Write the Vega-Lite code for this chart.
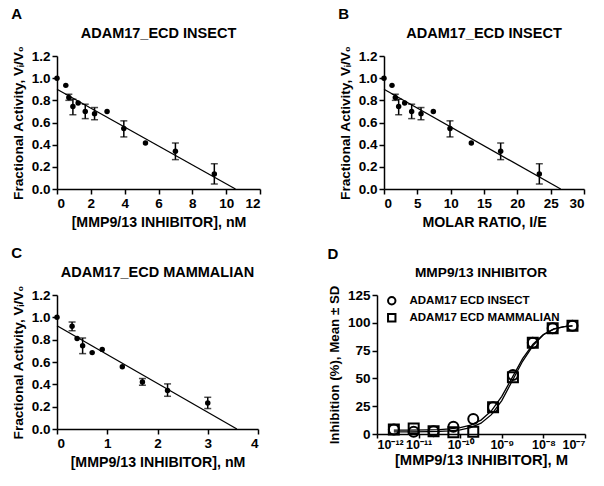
{
  "$schema": "https://vega.github.io/schema/vega-lite/v6.json",
  "background": "white",
  "padding": {"left": 11, "top": 6, "right": 5, "bottom": 5},
  "datasets": {
    "a": [
      {"x": 0, "y": 1.0},
      {"x": 0.52, "y": 0.935},
      {"x": 0.7, "y": 0.825, "lo": 0.8, "hi": 0.855},
      {"x": 0.94, "y": 0.745, "lo": 0.67, "hi": 0.81},
      {"x": 1.25, "y": 0.775},
      {"x": 1.67, "y": 0.7, "lo": 0.635, "hi": 0.765},
      {"x": 2.22, "y": 0.68, "lo": 0.625, "hi": 0.735},
      {"x": 2.96, "y": 0.7},
      {"x": 3.95, "y": 0.545, "lo": 0.47, "hi": 0.615},
      {"x": 5.23, "y": 0.415},
      {"x": 7.0, "y": 0.34, "lo": 0.265, "hi": 0.415},
      {"x": 9.3, "y": 0.135, "lo": 0.045, "hi": 0.228}
    ],
    "aline": [{"x": 0, "y": 0.9}, {"x": 10.55, "y": 0}],
    "b": [
      {"x": 0, "y": 1.0},
      {"x": 1.2, "y": 0.935},
      {"x": 1.7, "y": 0.825, "lo": 0.8, "hi": 0.855},
      {"x": 2.2, "y": 0.745, "lo": 0.67, "hi": 0.81},
      {"x": 3.1, "y": 0.775},
      {"x": 4.15, "y": 0.7, "lo": 0.635, "hi": 0.765},
      {"x": 5.55, "y": 0.68, "lo": 0.625, "hi": 0.735},
      {"x": 7.4, "y": 0.7},
      {"x": 9.9, "y": 0.545, "lo": 0.47, "hi": 0.615},
      {"x": 13.1, "y": 0.415},
      {"x": 17.5, "y": 0.34, "lo": 0.265, "hi": 0.415},
      {"x": 23.3, "y": 0.135, "lo": 0.045, "hi": 0.228}
    ],
    "bline": [{"x": 0, "y": 0.9}, {"x": 26.5, "y": 0}],
    "c": [
      {"x": 0, "y": 1.0},
      {"x": 0.3, "y": 0.92, "lo": 0.88, "hi": 0.958},
      {"x": 0.4, "y": 0.81},
      {"x": 0.51, "y": 0.746, "lo": 0.675, "hi": 0.815},
      {"x": 0.7, "y": 0.684},
      {"x": 0.9, "y": 0.713},
      {"x": 1.3, "y": 0.558},
      {"x": 1.7, "y": 0.422, "lo": 0.392, "hi": 0.452},
      {"x": 2.2, "y": 0.344, "lo": 0.293, "hi": 0.404},
      {"x": 3.0, "y": 0.233, "lo": 0.183, "hi": 0.284}
    ],
    "cline": [{"x": 0, "y": 0.925}, {"x": 3.58, "y": 0}],
    "dpts": [
      {"x": 2.54e-12, "y": 4, "s": "ADAM17 ECD INSECT"},
      {"x": 7.62e-12, "y": 2, "s": "ADAM17 ECD INSECT"},
      {"x": 2.29e-11, "y": 2.5, "s": "ADAM17 ECD INSECT"},
      {"x": 6.86e-11, "y": 6.5, "s": "ADAM17 ECD INSECT"},
      {"x": 2.06e-10, "y": 13.5, "s": "ADAM17 ECD INSECT"},
      {"x": 6.17e-10, "y": 24, "s": "ADAM17 ECD INSECT"},
      {"x": 1.85e-9, "y": 53, "s": "ADAM17 ECD INSECT"},
      {"x": 5.56e-9, "y": 82, "s": "ADAM17 ECD INSECT"},
      {"x": 1.67e-8, "y": 95, "s": "ADAM17 ECD INSECT"},
      {"x": 5e-8, "y": 97.3, "s": "ADAM17 ECD INSECT"},
      {"x": 2.54e-12, "y": 4, "s": "ADAM17 ECD MAMMALIAN"},
      {"x": 7.62e-12, "y": 5, "s": "ADAM17 ECD MAMMALIAN"},
      {"x": 2.29e-11, "y": 2.5, "s": "ADAM17 ECD MAMMALIAN"},
      {"x": 6.86e-11, "y": 1.5, "s": "ADAM17 ECD MAMMALIAN"},
      {"x": 2.06e-10, "y": 2, "s": "ADAM17 ECD MAMMALIAN"},
      {"x": 6.17e-10, "y": 24, "s": "ADAM17 ECD MAMMALIAN"},
      {"x": 1.85e-9, "y": 51, "s": "ADAM17 ECD MAMMALIAN"},
      {"x": 5.56e-9, "y": 82, "s": "ADAM17 ECD MAMMALIAN"},
      {"x": 1.67e-8, "y": 95, "s": "ADAM17 ECD MAMMALIAN"},
      {"x": 5e-8, "y": 97.3, "s": "ADAM17 ECD MAMMALIAN"}
    ],
    "dcurve": [
      {"x": 2.54e-12, "y": 3.5, "s": "insect"},
      {"x": 5.62e-12, "y": 3.55, "s": "insect"},
      {"x": 1.778e-11, "y": 3.74, "s": "insect"},
      {"x": 3.162e-11, "y": 4.0, "s": "insect"},
      {"x": 5.623e-11, "y": 4.55, "s": "insect"},
      {"x": 1e-10, "y": 5.7, "s": "insect"},
      {"x": 1.778e-10, "y": 8.0, "s": "insect"},
      {"x": 3.162e-10, "y": 12.5, "s": "insect"},
      {"x": 5.623e-10, "y": 20.8, "s": "insect"},
      {"x": 1e-9, "y": 33.9, "s": "insect"},
      {"x": 1.778e-9, "y": 50.7, "s": "insect"},
      {"x": 3.162e-9, "y": 67.7, "s": "insect"},
      {"x": 5.623e-9, "y": 80.7, "s": "insect"},
      {"x": 1e-8, "y": 89.5, "s": "insect"},
      {"x": 1.778e-8, "y": 94.5, "s": "insect"},
      {"x": 3.162e-8, "y": 96.5, "s": "insect"},
      {"x": 5e-8, "y": 97.3, "s": "insect"},
      {"x": 2.54e-12, "y": 2.0, "s": "mammalian"},
      {"x": 5.62e-12, "y": 2.0, "s": "mammalian"},
      {"x": 1.778e-11, "y": 2.17, "s": "mammalian"},
      {"x": 3.162e-11, "y": 2.38, "s": "mammalian"},
      {"x": 5.623e-11, "y": 2.8, "s": "mammalian"},
      {"x": 1e-10, "y": 3.76, "s": "mammalian"},
      {"x": 1.778e-10, "y": 5.7, "s": "mammalian"},
      {"x": 3.162e-10, "y": 9.7, "s": "mammalian"},
      {"x": 5.623e-10, "y": 17.4, "s": "mammalian"},
      {"x": 1e-9, "y": 30.0, "s": "mammalian"},
      {"x": 1.778e-9, "y": 47.6, "s": "mammalian"},
      {"x": 3.162e-9, "y": 65.4, "s": "mammalian"},
      {"x": 5.623e-9, "y": 79.5, "s": "mammalian"},
      {"x": 1e-8, "y": 89.3, "s": "mammalian"},
      {"x": 1.778e-8, "y": 94.3, "s": "mammalian"},
      {"x": 3.162e-8, "y": 96.5, "s": "mammalian"},
      {"x": 5e-8, "y": 97.3, "s": "mammalian"}
    ]
  },
  "config": {
    "font": "Liberation Sans",
    "view": {"stroke": null},
    "axis": {
      "grid": false,
      "labelOverlap": false,
      "domainColor": "black",
      "domainWidth": 1.5,
      "tickColor": "black",
      "tickWidth": 1.5,
      "tickSize": 5,
      "labelColor": "black",
      "labelFont": "Liberation Sans",
      "labelFontWeight": "bold",
      "labelFontSize": 13.5,
      "labelPadding": 2,
      "titleColor": "black",
      "titleFont": "Liberation Sans",
      "titleFontWeight": "bold",
      "titleFontSize": 14.2,
      "titlePadding": 6
    },
    "axisY": {"titleFontSize": 13.6},
    "title": {"color": "black", "font": "Liberation Sans", "fontWeight": "bold"}
  },
  "spacing": 16,
  "resolve": {"scale": {"shape": "independent"}, "legend": {"shape": "independent"}},
  "vconcat": [
    {
      "spacing": 77,
      "hconcat": [
        {
          "title": {"text": "A", "anchor": "start", "fontSize": 15, "offset": 4},
          "vconcat": [
            {
              "width": 203,
              "height": 133,
              "title": {"text": "ADAM17_ECD INSECT", "anchor": "middle", "fontSize": 14.5, "offset": 4},
              "encoding": {
                "x": {"field": "x", "type": "quantitative", "scale": {"domain": [0, 12], "nice": false}, "axis": {"values": [0, 2, 4, 6, 8, 10, 12], "format": "d", "labelOverlap": false, "title": "[MMP9/13 INHIBITOR], nM"}},
                "y": {"field": "y", "type": "quantitative", "scale": {"domain": [0, 1.2], "nice": false}, "axis": {"values": [0, 0.2, 0.4, 0.6, 0.8, 1.0, 1.2], "format": ".1f", "labelOverlap": false, "title": "Fractional Activity, Vᵢ/V₀"}}
              },
              "layer": [
                {
                  "data": {"name": "aline"},
                  "mark": {"type": "line", "color": "black", "strokeWidth": 1.3}
                },
                {
                  "data": {"name": "a"},
                  "transform": [{"filter": "isValid(datum.lo)"}],
                  "mark": {"type": "rule", "color": "black", "strokeWidth": 1.5},
                  "encoding": {"y": {"field": "lo", "type": "quantitative"}, "y2": {"field": "hi"}}
                },
                {
                  "data": {"name": "a"},
                  "transform": [{"filter": "isValid(datum.lo)"}],
                  "mark": {"type": "tick", "color": "black", "orient": "horizontal", "size": 7, "thickness": 1.5},
                  "encoding": {"y": {"field": "lo", "type": "quantitative"}}
                },
                {
                  "data": {"name": "a"},
                  "transform": [{"filter": "isValid(datum.lo)"}],
                  "mark": {"type": "tick", "color": "black", "orient": "horizontal", "size": 7, "thickness": 1.5},
                  "encoding": {"y": {"field": "hi", "type": "quantitative"}}
                },
                {
                  "data": {"name": "a"},
                  "mark": {"type": "circle", "color": "black", "opacity": 1, "size": 30}
                }
              ]
            }
          ]
        },
        {
          "title": {"text": "B", "anchor": "start", "fontSize": 15, "offset": 4},
          "vconcat": [
            {
              "width": 200,
              "height": 133,
              "title": {"text": "ADAM17_ECD INSECT", "anchor": "middle", "fontSize": 14.5, "offset": 4},
              "encoding": {
                "x": {"field": "x", "type": "quantitative", "scale": {"domain": [0, 30], "nice": false}, "axis": {"values": [0, 5, 10, 15, 20, 25, 30], "format": "d", "labelOverlap": false, "title": "MOLAR RATIO, I/E"}},
                "y": {"field": "y", "type": "quantitative", "scale": {"domain": [0, 1.2], "nice": false}, "axis": {"values": [0, 0.2, 0.4, 0.6, 0.8, 1.0, 1.2], "format": ".1f", "labelOverlap": false, "title": "Fractional Activity, Vᵢ/V₀"}}
              },
              "layer": [
                {
                  "data": {"name": "bline"},
                  "mark": {"type": "line", "color": "black", "strokeWidth": 1.3}
                },
                {
                  "data": {"name": "b"},
                  "transform": [{"filter": "isValid(datum.lo)"}],
                  "mark": {"type": "rule", "color": "black", "strokeWidth": 1.5},
                  "encoding": {"y": {"field": "lo", "type": "quantitative"}, "y2": {"field": "hi"}}
                },
                {
                  "data": {"name": "b"},
                  "transform": [{"filter": "isValid(datum.lo)"}],
                  "mark": {"type": "tick", "color": "black", "orient": "horizontal", "size": 7, "thickness": 1.5},
                  "encoding": {"y": {"field": "lo", "type": "quantitative"}}
                },
                {
                  "data": {"name": "b"},
                  "transform": [{"filter": "isValid(datum.lo)"}],
                  "mark": {"type": "tick", "color": "black", "orient": "horizontal", "size": 7, "thickness": 1.5},
                  "encoding": {"y": {"field": "hi", "type": "quantitative"}}
                },
                {
                  "data": {"name": "b"},
                  "mark": {"type": "circle", "color": "black", "opacity": 1, "size": 30}
                }
              ]
            }
          ]
        }
      ]
    },
    {
      "spacing": 68,
      "resolve": {"scale": {"shape": "independent"}, "legend": {"shape": "independent"}},
      "hconcat": [
        {
          "title": {"text": "C", "anchor": "start", "fontSize": 15, "offset": 4},
          "vconcat": [
            {
              "width": 201,
              "height": 134,
              "title": {"text": "ADAM17_ECD MAMMALIAN", "anchor": "middle", "fontSize": 14.5, "offset": 4},
              "encoding": {
                "x": {"field": "x", "type": "quantitative", "scale": {"domain": [0, 4], "nice": false}, "axis": {"values": [0, 1, 2, 3, 4], "format": "d", "labelOverlap": false, "title": "[MMP9/13 INHIBITOR], nM"}},
                "y": {"field": "y", "type": "quantitative", "scale": {"domain": [0, 1.2], "nice": false}, "axis": {"values": [0, 0.2, 0.4, 0.6, 0.8, 1.0, 1.2], "format": ".1f", "labelOverlap": false, "title": "Fractional Activity, Vᵢ/V₀"}}
              },
              "layer": [
                {
                  "data": {"name": "cline"},
                  "mark": {"type": "line", "color": "black", "strokeWidth": 1.3}
                },
                {
                  "data": {"name": "c"},
                  "transform": [{"filter": "isValid(datum.lo)"}],
                  "mark": {"type": "rule", "color": "black", "strokeWidth": 1.5},
                  "encoding": {"y": {"field": "lo", "type": "quantitative"}, "y2": {"field": "hi"}}
                },
                {
                  "data": {"name": "c"},
                  "transform": [{"filter": "isValid(datum.lo)"}],
                  "mark": {"type": "tick", "color": "black", "orient": "horizontal", "size": 7, "thickness": 1.5},
                  "encoding": {"y": {"field": "lo", "type": "quantitative"}}
                },
                {
                  "data": {"name": "c"},
                  "transform": [{"filter": "isValid(datum.lo)"}],
                  "mark": {"type": "tick", "color": "black", "orient": "horizontal", "size": 7, "thickness": 1.5},
                  "encoding": {"y": {"field": "hi", "type": "quantitative"}}
                },
                {
                  "data": {"name": "c"},
                  "mark": {"type": "circle", "color": "black", "opacity": 1, "size": 30}
                }
              ]
            }
          ]
        },
        {
          "title": {"text": "D", "anchor": "start", "fontSize": 15, "offset": 4},
          "resolve": {"scale": {"shape": "independent"}, "legend": {"shape": "independent"}},
          "vconcat": [
            {
              "width": 208,
              "height": 139,
              "title": {"text": "MMP9/13 INHIBITOR", "anchor": "middle", "fontSize": 13.7, "offset": 5},
              "encoding": {
                "x": {"field": "x", "type": "quantitative", "scale": {"type": "log", "domain": [1e-12, 1e-7], "nice": false}, "axis": {"values": [1e-12, 1e-11, 1e-10, 1e-9, 1e-8, 1e-7], "labelOverlap": false, "title": "[MMP9/13 INHIBITOR], M", "titleFontSize": 14.8, "titlePadding": 2, "tickSize": 4, "labelPadding": 0, "labelFontSize": 12.5, "labelExpr": "round(log(datum.value)/LN10) == -12 ? '10⁻¹²' : round(log(datum.value)/LN10) == -11 ? '10⁻¹¹' : round(log(datum.value)/LN10) == -10 ? '10⁻¹⁰' : round(log(datum.value)/LN10) == -9 ? '10⁻⁹' : round(log(datum.value)/LN10) == -8 ? '10⁻⁸' : '10⁻⁷'"}},
                "y": {"field": "y", "type": "quantitative", "scale": {"domain": [0, 125], "nice": false}, "axis": {"values": [0, 25, 50, 75, 100, 125], "labelOverlap": false, "title": "Inhibition (%), Mean ± SD", "titleFontSize": 13.3}}
              },
              "layer": [
                {
                  "data": {"name": "dcurve"},
                  "mark": {"type": "line", "color": "black", "strokeWidth": 1.3},
                  "encoding": {"detail": {"field": "s"}}
                },
                {
                  "data": {"name": "dpts"},
                  "mark": {"type": "point", "filled": false, "color": "black", "opacity": 1, "strokeWidth": 2, "size": 100},
                  "encoding": {
                    "shape": {
                      "field": "s",
                      "type": "nominal",
                      "scale": {"domain": ["ADAM17 ECD INSECT", "ADAM17 ECD MAMMALIAN"], "range": ["circle", "square"]},
                      "legend": {
                        "title": null,
                        "orient": "none",
                        "legendX": 9,
                        "legendY": 0,
                        "labelFont": "Liberation Sans",
                        "labelFontWeight": "bold",
                        "labelFontSize": 11.5,
                        "labelColor": "black",
                        "labelOffset": 12,
                        "symbolSize": 55,
                        "symbolStrokeWidth": 2,
                        "symbolStrokeColor": "black",
                        "symbolFillColor": "transparent",
                        "rowPadding": 1
                      }
                    }
                  }
                }
              ]
            }
          ]
        }
      ]
    }
  ]
}
